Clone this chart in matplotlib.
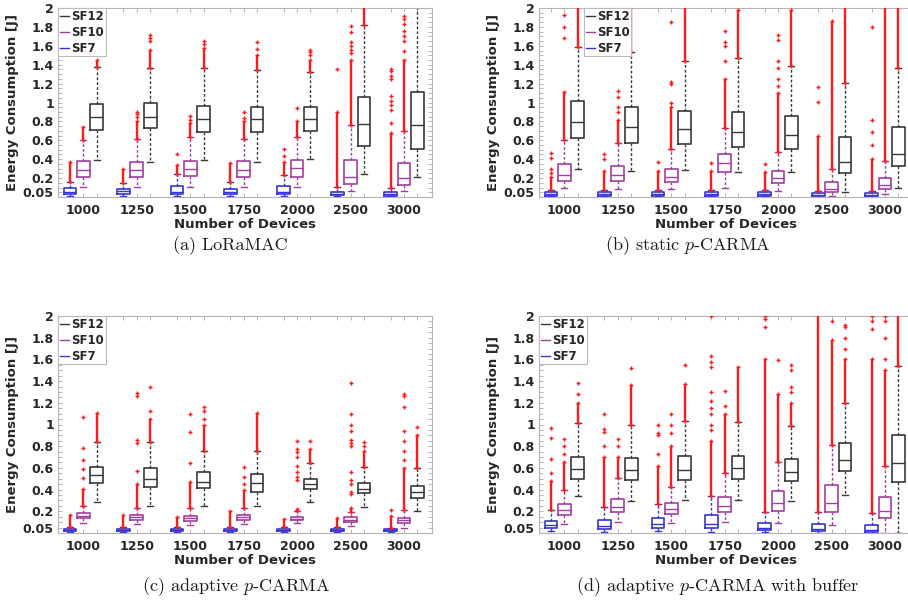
import numpy as np
import matplotlib
matplotlib.use("Agg")
import matplotlib.pyplot as plt
from matplotlib.lines import Line2D
from matplotlib.ticker import MultipleLocator

plt.rcParams['font.family'] = 'DejaVu Sans'
plt.rcParams['mathtext.fontset'] = 'cm'

devices = ['1000', '1250', '1500', '1750', '2000', '2500', '3000']
sf_names = ['SF7', 'SF10', 'SF12']
sf_colors = ['#3535d2', '#a23ea2', '#383838']

# box stats per group: (whisker low, q1, median, q3, whisker high)
# dense outlier columns: (low, high); sparse outliers listed one by one

# (a) LoRaMAC
a_sf7 = [(0.015, 0.032, 0.055, 0.09, 0.16), (0.015, 0.032, 0.06, 0.082, 0.148),
         (0.015, 0.032, 0.055, 0.116, 0.24), (0.015, 0.032, 0.058, 0.085, 0.16),
         (0.015, 0.032, 0.05, 0.116, 0.235), (0.008, 0.018, 0.035, 0.057, 0.11),
         (0.008, 0.014, 0.03, 0.05, 0.092)]
a_sf7_run = [(0.16, 0.37), (0.15, 0.30), (0.24, 0.34), (0.16, 0.36), (0.235, 0.37),
             (0.11, 0.90), (0.092, 0.68)]
a_sf7_out = [[], [], [0.455], [], [0.43, 0.51], [1.35],
             [0.78, 0.92, 0.97, 1.02, 1.07, 1.25, 1.28, 1.33, 1.355]]
a_sf10 = [(0.103, 0.215, 0.286, 0.378, 0.60), (0.103, 0.208, 0.282, 0.37, 0.61),
          (0.103, 0.222, 0.293, 0.385, 0.63), (0.103, 0.21, 0.283, 0.38, 0.61),
          (0.103, 0.215, 0.31, 0.39, 0.64), (0.06, 0.134, 0.212, 0.39, 0.76),
          (0.06, 0.127, 0.198, 0.356, 0.695)]
a_sf10_run = [(0.6, 0.74), (0.61, 0.80), (0.63, 0.78), (0.61, 0.80), (0.64, 0.80),
              (0.76, 1.45), (0.695, 1.45)]
a_sf10_out = [[], [0.85, 0.88, 0.90], [0.82, 0.86], [0.84, 0.90], [0.94],
              [1.52, 1.56, 1.60, 1.64, 1.75, 1.81],
              [1.55, 1.65, 1.70, 1.76, 1.83, 1.88, 1.92]]
a_sf12 = [(0.39, 0.71, 0.85, 0.98, 1.38), (0.37, 0.727, 0.85, 0.99, 1.36),
          (0.39, 0.69, 0.825, 0.966, 1.37), (0.37, 0.69, 0.83, 0.955, 1.34),
          (0.40, 0.70, 0.825, 0.95, 1.32), (0.247, 0.543, 0.77, 1.055, 1.82),
          (0.215, 0.505, 0.76, 1.115, 2.05)]
a_sf12_run = [(1.38, 1.45), (1.36, 1.56), (1.37, 1.58), (1.34, 1.50), (1.32, 1.45),
              (1.82, 2.05), None]
a_sf12_out = [[1.53], [1.65, 1.68, 1.71], [1.62, 1.65], [1.57, 1.64],
              [1.50, 1.53, 1.555], [], []]

# (b) static p-CARMA
b_sf7 = [(0.01, 0.014, 0.03, 0.05, 0.072), (0.01, 0.014, 0.03, 0.052, 0.075),
         (0.01, 0.014, 0.03, 0.048, 0.072), (0.01, 0.014, 0.03, 0.048, 0.072),
         (0.01, 0.014, 0.03, 0.048, 0.07), (0.005, 0.01, 0.02, 0.04, 0.065),
         (0.005, 0.01, 0.02, 0.04, 0.065)]
b_sf7_run = [(0.072, 0.21), (0.075, 0.28), (0.072, 0.27), (0.072, 0.28), (0.07, 0.26),
             (0.065, 0.65), (0.065, 0.40)]
b_sf7_out = [[0.25, 0.30, 0.41, 0.47], [0.40, 0.45], [0.37], [0.36], [0.35],
             [1.01, 1.16], [0.55, 0.69, 0.81, 1.80]]
b_sf10 = [(0.092, 0.173, 0.236, 0.346, 0.60), (0.081, 0.17, 0.233, 0.33, 0.568),
          (0.081, 0.155, 0.212, 0.293, 0.505), (0.092, 0.26, 0.363, 0.45, 0.727),
          (0.067, 0.145, 0.198, 0.278, 0.48), (0.01, 0.05, 0.085, 0.155, 0.30),
          (0.028, 0.085, 0.127, 0.2, 0.38)]
b_sf10_run = [(0.60, 1.11), (0.568, 0.82), (0.505, 0.95), (0.727, 1.25), (0.48, 1.10),
              (0.30, 1.86), (0.38, 2.05)]
b_sf10_out = [[1.68, 1.80, 1.93], [0.90, 0.95, 1.06, 1.12], [1.0, 1.2, 1.22, 1.85],
              [1.44, 1.60, 1.64, 1.76], [1.17, 1.25, 1.37, 1.44, 1.66, 1.71], [], []]
b_sf12 = [(0.30, 0.62, 0.79, 1.02, 1.59), (0.278, 0.568, 0.744, 0.955, 1.53),
          (0.286, 0.557, 0.716, 0.91, 1.44), (0.268, 0.53, 0.685, 0.90, 1.47),
          (0.26, 0.51, 0.66, 0.86, 1.386), (0.056, 0.25, 0.374, 0.638, 1.21),
          (0.092, 0.33, 0.455, 0.744, 1.37)]
b_sf12_run = [(1.59, 2.05), (1.53, 2.05), (1.44, 2.05), (1.47, 1.98), (1.386, 1.98),
              (1.21, 2.05), (1.37, 2.05)]
b_sf12_out = [[], [], [], [], [], [], []]

# (c) adaptive p-CARMA
c_sf7 = [(0.012, 0.016, 0.028, 0.04, 0.058), (0.012, 0.016, 0.028, 0.04, 0.058),
         (0.012, 0.016, 0.026, 0.038, 0.055), (0.012, 0.016, 0.026, 0.038, 0.058),
         (0.012, 0.016, 0.026, 0.036, 0.052), (0.012, 0.016, 0.026, 0.036, 0.052),
         (0.012, 0.016, 0.024, 0.034, 0.05)]
c_sf7_run = [(0.058, 0.166), (0.058, 0.166), (0.055, 0.15), (0.058, 0.206),
             (0.052, 0.129), (0.052, 0.135), (0.05, 0.16)]
c_sf7_out = [[], [], [], [], [], [], [0.21]]
c_sf10 = [(0.095, 0.135, 0.16, 0.181, 0.252), (0.08, 0.12, 0.143, 0.166, 0.228),
          (0.07, 0.11, 0.135, 0.16, 0.228), (0.08, 0.12, 0.143, 0.166, 0.228),
          (0.089, 0.117, 0.132, 0.147, 0.20), (0.067, 0.104, 0.124, 0.143, 0.196),
          (0.05, 0.095, 0.12, 0.14, 0.21)]
c_sf10_run = [(0.252, 0.41), (0.228, 0.455), (0.228, 0.473), (0.228, 0.40),
              (0.20, 0.22), (0.196, 0.23), (0.21, 0.60)]
c_sf10_out = [[0.51, 0.59, 0.67, 0.78, 1.066], [0.57, 0.827, 0.86, 1.266, 1.29],
              [0.642, 0.928, 1.097], [0.45, 0.52, 0.605],
              [0.49, 0.52, 0.56, 0.62, 0.70, 0.75, 0.77, 0.85],
              [0.36, 0.38, 0.45, 0.49, 0.56, 0.80, 0.83, 0.86, 0.94, 1.0, 1.097, 1.38],
              [0.67, 0.76, 0.85, 0.94, 1.16, 1.26, 1.28]]
c_sf12 = [(0.283, 0.458, 0.535, 0.61, 0.836), (0.252, 0.421, 0.498, 0.596, 0.84),
          (0.252, 0.418, 0.473, 0.559, 0.76), (0.25, 0.381, 0.458, 0.544, 0.76),
          (0.283, 0.402, 0.452, 0.498, 0.642), (0.243, 0.366, 0.41, 0.464, 0.605),
          (0.205, 0.325, 0.375, 0.436, 0.596)]
c_sf12_run = [(0.836, 1.109), (0.84, 1.05), (0.76, 1.0), (0.76, 1.11), (0.642, 0.77),
              (0.605, 0.76), (0.596, 0.9)]
c_sf12_out = [[], [1.12, 1.35], [1.05, 1.12, 1.158], [], [0.85], [0.80, 0.84], [0.98]]

# (d) adaptive p-CARMA with buffer
d_sf7 = [(0.018, 0.043, 0.074, 0.114, 0.212), (0.012, 0.04, 0.065, 0.12, 0.237),
         (0.018, 0.049, 0.08, 0.135, 0.267), (0.012, 0.043, 0.08, 0.163, 0.341),
         (0.006, 0.028, 0.043, 0.089, 0.196), (0.003, 0.018, 0.034, 0.083, 0.19),
         (0.003, 0.006, 0.028, 0.077, 0.181)]
d_sf7_run = [(0.212, 0.48), (0.237, 0.70), (0.267, 0.62), (0.341, 0.85), (0.196, 1.60),
             (0.19, 2.05), (0.181, 1.60)]
d_sf7_out = [[0.55, 0.68, 0.88, 0.97], [0.80, 0.93, 0.96, 1.1], [0.73, 0.90, 0.92, 1.0],
             [0.95, 1.0, 1.1, 1.15, 1.22, 1.3, 1.53, 1.58, 1.63, 2.0],
             [1.9, 1.97, 2.0], [], [1.88, 1.95, 2.0]]
d_sf10 = [(0.08, 0.166, 0.212, 0.264, 0.40), (0.10, 0.19, 0.243, 0.316, 0.504),
          (0.095, 0.172, 0.22, 0.274, 0.427), (0.098, 0.19, 0.252, 0.335, 0.55),
          (0.09, 0.206, 0.274, 0.387, 0.65), (0.074, 0.19, 0.274, 0.44, 0.811),
          (0.003, 0.135, 0.206, 0.332, 0.62)]
d_sf10_run = [(0.40, 0.65), (0.504, 0.70), (0.427, 0.80), (0.55, 1.10), (0.65, 1.28),
              (0.811, 1.78), (0.62, 1.50)]
d_sf10_out = [[0.73, 0.80, 0.87], [0.80, 0.87], [0.92, 1.0, 1.1], [1.17, 1.31],
              [1.59], [1.95], [1.6, 1.8, 1.95, 2.0]]
d_sf12 = [(0.341, 0.495, 0.587, 0.70, 1.01), (0.295, 0.486, 0.58, 0.694, 1.0),
          (0.304, 0.486, 0.58, 0.707, 1.035), (0.304, 0.495, 0.595, 0.71, 1.026),
          (0.295, 0.479, 0.565, 0.682, 0.99), (0.35, 0.574, 0.673, 0.827, 1.2),
          (0.003, 0.473, 0.648, 0.903, 1.54)]
d_sf12_run = [(1.01, 1.2), (1.0, 1.36), (1.035, 1.37), (1.026, 1.53), (0.99, 1.2),
              (1.2, 1.6), (1.54, 2.05)]
d_sf12_out = [[1.28, 1.38], [1.52], [1.55], [], [1.3, 1.35, 1.5, 1.55],
              [1.7, 1.8, 1.9, 1.92], []]

captions = ['(a) LoRaMAC', '(b) static $p$-CARMA',
            '(c) adaptive $p$-CARMA', '(d) adaptive $p$-CARMA with buffer']

yticks = [0.05, 0.2, 0.4, 0.6, 0.8, 1.0, 1.2, 1.4, 1.6, 1.8, 2.0]
ytick_labels = ['0.05', '0.2', '0.4', '0.6', '0.8', '1', '1.2', '1.4', '1.6', '1.8', '2']

text_col = '#262626'
frame_col = '#b4b4b4'
flier_col = '#ff1a1a'


def draw_panel(ax, stats, runs, outs, legend_x):
    centers = np.arange(1, 8) * 4
    for k in range(3):
        col = sf_colors[k]
        pos = centers + (k - 1)
        bx = [dict(whislo=s[0], q1=s[1], med=s[2], q3=s[3], whishi=s[4], fliers=[])
              for s in stats[k]]
        ax.bxp(bx, positions=pos, widths=0.95, capwidths=0.45, showfliers=False,
               boxprops=dict(color=col, lw=1.2),
               medianprops=dict(color=col, lw=1.0),
               whiskerprops=dict(color=col, lw=1.0, linestyle=(0, (2, 1.5))),
               capprops=dict(color=col, lw=1.0), manage_ticks=False)
        for p, r, o in zip(pos, runs[k], outs[k]):
            if r is not None:
                # tightly packed outliers merge into a column
                ax.vlines(p, r[0], r[1], color=flier_col, lw=1.7, zorder=4)
                ax.plot([p, p], r, '+', color=flier_col, ms=3.5, mew=1, zorder=4)
            if o:
                ax.plot([p] * len(o), o, '+', color=flier_col, ms=3.5, mew=1, zorder=4)

    ax.set_xlim(2.1, 30.1)
    ax.set_ylim(0, 2)
    ax.set_xticks(centers)
    ax.set_xticklabels(devices)
    ax.set_xticks(np.concatenate([centers - 1, centers + 1]), minor=True)
    ax.set_yticks(yticks)
    ax.set_yticklabels(ytick_labels)
    ax.yaxis.set_minor_locator(MultipleLocator(0.05))
    ax.tick_params(which='both', direction='in', top=True, right=True,
                   color='#aaaaaa', length=3, width=0.6)
    ax.tick_params(axis='x', which='major', pad=5)
    ax.tick_params(axis='y', which='major', pad=3)
    for lab in ax.get_xticklabels() + ax.get_yticklabels():
        lab.set_fontweight('bold')
        lab.set_fontsize(9)
        lab.set_color(text_col)
    for sp in ax.spines.values():
        sp.set_color(frame_col)
        sp.set_linewidth(0.8)
    ax.set_xlabel('Number of Devices', fontsize=9.5, fontweight='bold', color=text_col,
                  labelpad=1)
    ax.set_ylabel('Energy Consumption [J]', fontsize=9.5, fontweight='bold',
                  color=text_col, labelpad=3)

    handles = [Line2D([], [], color=sf_colors[k], lw=1) for k in (2, 1, 0)]
    leg = ax.legend(handles, ['SF12', 'SF10', 'SF7'], loc='upper left',
                    bbox_to_anchor=(legend_x, 1.0), borderaxespad=0,
                    handlelength=0.8, handletextpad=0.15, borderpad=0.15,
                    labelspacing=0.25, fancybox=False, framealpha=1,
                    edgecolor='#bbbbbb', prop=dict(weight='bold', size=8.5))
    leg.get_frame().set_linewidth(0.8)
    for t in leg.get_texts():
        t.set_color(text_col)


fig = plt.figure(figsize=(9.08, 6.03), dpi=100)
W, H = 908.0, 603.0

ax_a = fig.add_axes([58 / W, 1 - 197 / H, 374 / W, 189 / H])
ax_b = fig.add_axes([539 / W, 1 - 197 / H, 374 / W, 189 / H])
ax_c = fig.add_axes([58 / W, 1 - 533 / H, 374 / W, 217 / H])
ax_d = fig.add_axes([539 / W, 1 - 533 / H, 374 / W, 217 / H])

draw_panel(ax_a, [a_sf7, a_sf10, a_sf12], [a_sf7_run, a_sf10_run, a_sf12_run],
           [a_sf7_out, a_sf10_out, a_sf12_out], 0.0)
draw_panel(ax_b, [b_sf7, b_sf10, b_sf12], [b_sf7_run, b_sf10_run, b_sf12_run],
           [b_sf7_out, b_sf10_out, b_sf12_out], 0.12)
draw_panel(ax_c, [c_sf7, c_sf10, c_sf12], [c_sf7_run, c_sf10_run, c_sf12_run],
           [c_sf7_out, c_sf10_out, c_sf12_out], 0.0)
draw_panel(ax_d, [d_sf7, d_sf10, d_sf12], [d_sf7_run, d_sf10_run, d_sf12_run],
           [d_sf7_out, d_sf10_out, d_sf12_out], 0.0)

# captions under each panel
cap_pos = [(230, 246), (688, 246), (236, 587), (718, 587)]
for (cx, cy), txt in zip(cap_pos, captions):
    fig.text(cx / W, 1 - cy / H, txt, ha='center', va='center', fontsize=13,
             family='cmr10', color='#1a1a1a')

fig.savefig('out.png', dpi=100)
